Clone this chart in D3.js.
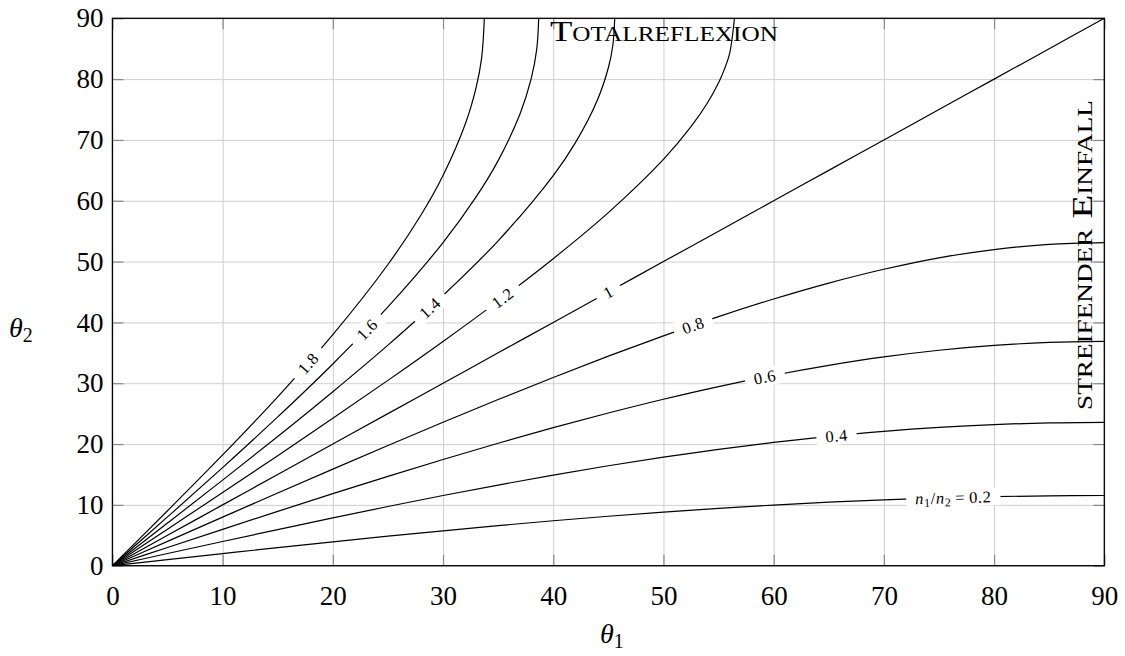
<!DOCTYPE html>
<html>
<head>
<meta charset="utf-8">
<script src="https://cdn.jsdelivr.net/npm/d3@7"></script>
<style>
  body { margin: 0; background: #fff; }
  text { font-family: 'Liberation Serif', 'DejaVu Serif', serif; fill: #000; }
</style>
</head>
<body>
<svg id="chart"></svg>
<script>
// refraction angle theta2 vs. incidence angle theta1 for several n1/n2
const ratios = [0.2, 0.4, 0.6, 0.8, 1, 1.2, 1.4, 1.6, 1.8];
const ratioLabels = ['0.2', '0.4', '0.6', '0.8', '1', '1.2', '1.4', '1.6', '1.8'];

const theta1Full = [0, 5, 10, 15, 20, 25, 30, 35, 40, 45, 50, 55, 60, 65, 70, 75, 80, 85, 90];
const theta2At02 = [0, 1.00, 1.99, 2.97, 3.92, 4.85, 5.74, 6.59, 7.39, 8.13, 8.81, 9.43, 9.97, 10.44, 10.83, 11.14, 11.36, 11.49, 11.54];
const theta2At04 = [0, 2.00, 3.98, 5.94, 7.86, 9.73, 11.54, 13.26, 14.90, 16.43, 17.84, 19.13, 20.27, 21.25, 22.08, 22.73, 23.20, 23.48, 23.58];
const theta2At06 = [0, 3.00, 5.98, 8.93, 11.84, 14.69, 17.46, 20.13, 22.69, 25.10, 27.36, 29.44, 31.31, 32.94, 34.32, 35.42, 36.22, 36.71, 36.87];
const theta2At08 = [0, 4.00, 7.98, 11.95, 15.88, 19.76, 23.58, 27.32, 30.95, 34.45, 37.79, 40.95, 43.85, 46.47, 48.74, 50.62, 51.98, 52.84, 53.13];
const theta2At10 = [0, 5, 10, 15, 20, 25, 30, 35, 40, 45, 50, 55, 60, 65, 70, 75, 80, 85, 90];

// curves with n1/n2 > 1 stop at the critical angle (total reflection)
const theta1At12 = [0, 5, 10, 15, 20, 25, 30, 35, 40, 45, 50, 52.5, 54, 55, 55.5, 56, 56.44];
const theta2At12 = [0, 6.01, 12.02, 18.09, 24.23, 30.47, 36.87, 43.50, 50.48, 58.05, 66.80, 72.18, 76.12, 79.42, 81.48, 84.18, 90];
const theta1At14 = [0, 5, 10, 15, 20, 25, 30, 35, 40, 42, 44, 45, 45.4, 45.58];
const theta2At14 = [0, 7.01, 14.07, 21.24, 28.61, 36.27, 44.43, 53.42, 64.15, 69.52, 76.54, 81.87, 85.44, 90];
const theta1At16 = [0, 5, 10, 15, 20, 25, 30, 33, 35, 37, 38, 38.5, 38.68];
const theta2At16 = [0, 8.02, 16.13, 24.46, 33.17, 42.54, 53.13, 60.63, 66.60, 74.35, 80.08, 84.88, 90];
const theta1At18 = [0, 5, 10, 15, 20, 25, 28, 30, 32, 33, 33.5, 33.75];
const theta2At18 = [0, 9.03, 18.21, 27.77, 37.99, 49.52, 57.67, 64.16, 72.53, 78.62, 83.46, 90];

// theta1 where each contour label sits
const labelAt = [76.3, 65.7, 59.2, 52.7, 45.0, 35.4, 28.8, 23.1, 17.75];

const xTicks = [0, 10, 20, 30, 40, 50, 60, 70, 80, 90];
const yTicks = [0, 10, 20, 30, 40, 50, 60, 70, 80, 90];

const series = [
  [theta1Full, theta2At02], [theta1Full, theta2At04], [theta1Full, theta2At06],
  [theta1Full, theta2At08], [theta1Full, theta2At10], [theta1At12, theta2At12],
  [theta1At14, theta2At14], [theta1At16, theta2At16], [theta1At18, theta2At18]
].map(([xs, ys], i) => ({
  ratio: ratios[i],
  label: ratioLabels[i],
  at: labelAt[i],
  points: xs.map((x, j) => [x, ys[j]])
}));

const width = 1125, height = 656;
const margin = {top: 18.3, right: 20.7, bottom: 90.3, left: 112.4};
const innerW = width - margin.left - margin.right;
const innerH = height - margin.top - margin.bottom;

const svg = d3.select('#chart')
    .attr('width', width)
    .attr('height', height);

const chart = svg.append('g')
    .attr('transform', `translate(${margin.left},${margin.top})`);

const xScale = d3.scaleLinear().domain([0, 90]).range([0, innerW]);
const yScale = d3.scaleLinear().domain([0, 90]).range([innerH, 0]);

svg.append('defs').append('clipPath')
    .attr('id', 'plot-clip')
  .append('rect')
    .attr('width', innerW)
    .attr('height', innerH);

// grid
chart.append('g')
    .attr('class', 'grid')
    .attr('transform', `translate(0,${innerH})`)
    .call(d3.axisBottom(xScale).tickValues(xTicks).tickSize(-innerH).tickFormat(''))
    .call(g => g.select('.domain').remove())
    .call(g => g.selectAll('line').attr('stroke', '#cfcfcf').attr('stroke-width', 1));

chart.append('g')
    .attr('class', 'grid')
    .call(d3.axisLeft(yScale).tickValues(yTicks).tickSize(-innerW).tickFormat(''))
    .call(g => g.select('.domain').remove())
    .call(g => g.selectAll('line').attr('stroke', '#cfcfcf').attr('stroke-width', 1));

// inward ticks on all four sides
const tickLen = 11;
const styleTicks = g => {
  g.select('.domain').remove();
  g.selectAll('line').attr('stroke', '#888').attr('stroke-width', 1.2);
};
chart.append('g')
    .attr('transform', `translate(0,${innerH})`)
    .call(d3.axisBottom(xScale).tickValues(xTicks).tickSize(-tickLen).tickFormat(''))
    .call(styleTicks);
chart.append('g')
    .call(d3.axisTop(xScale).tickValues(xTicks).tickSize(-tickLen).tickFormat(''))
    .call(styleTicks);
chart.append('g')
    .call(d3.axisLeft(yScale).tickValues(yTicks).tickSize(-tickLen).tickFormat(''))
    .call(styleTicks);
chart.append('g')
    .attr('transform', `translate(${innerW},0)`)
    .call(d3.axisRight(yScale).tickValues(yTicks).tickSize(-tickLen).tickFormat(''))
    .call(styleTicks);

// tick labels
const xAxisG = chart.append('g')
    .attr('transform', `translate(0,${innerH})`)
    .call(d3.axisBottom(xScale).tickValues(xTicks).tickSize(0).tickPadding(20).tickFormat(d3.format('d')));
xAxisG.select('.domain').remove();
xAxisG.selectAll('text').attr('font-size', 27).attr('font-family', "'Liberation Serif', serif");

const yAxisG = chart.append('g')
    .call(d3.axisLeft(yScale).tickValues(yTicks).tickSize(0).tickPadding(9).tickFormat(d3.format('d')));
yAxisG.select('.domain').remove();
yAxisG.selectAll('text').attr('font-size', 27).attr('font-family', "'Liberation Serif', serif");

// curves
const line = d3.line()
    .x(d => xScale(d[0]))
    .y(d => yScale(d[1]))
    .curve(d3.curveCatmullRom.alpha(0.5));

const marks = chart.append('g').attr('clip-path', 'url(#plot-clip)');
const paths = marks.selectAll('.curve')
    .data(series)
  .join('path')
    .attr('class', 'curve')
    .attr('fill', 'none')
    .attr('stroke', '#000')
    .attr('stroke-width', 1.2)
    .attr('d', d => line(d.points));

// frame
chart.append('rect')
    .attr('width', innerW)
    .attr('height', innerH)
    .attr('fill', 'none')
    .attr('stroke', '#000')
    .attr('stroke-width', 1.3);

// contour labels, placed on the drawn path and rotated with it
const labelG = chart.append('g');
paths.each(function(d) {
  const node = this;
  const total = node.getTotalLength();
  const targetX = xScale(d.at);
  let lo = 0, hi = total;
  for (let k = 0; k < 40; k++) {
    const mid = (lo + hi) / 2;
    if (node.getPointAtLength(mid).x < targetX) lo = mid; else hi = mid;
  }
  const p = node.getPointAtLength(lo);
  const a = node.getPointAtLength(Math.max(0, lo - 6));
  const b = node.getPointAtLength(Math.min(total, lo + 6));
  const angle = Math.atan2(b.y - a.y, b.x - a.x) * 180 / Math.PI;

  const g = labelG.append('g')
      .attr('transform', `translate(${p.x},${p.y}) rotate(${angle})`);
  const bg = g.append('rect').attr('fill', '#fff');
  const t = g.append('text')
      .attr('text-anchor', 'middle')
      .attr('dy', '0.35em')
      .attr('font-size', 16.5)
      .attr('letter-spacing', 0.6);
  if (d.ratio === 0.2) {
    t.append('tspan').attr('font-style', 'italic').text('n');
    t.append('tspan').attr('font-size', 12).attr('dy', 3).text('1');
    t.append('tspan').attr('dy', -3).text('/');
    t.append('tspan').attr('font-style', 'italic').text('n');
    t.append('tspan').attr('font-size', 12).attr('dy', 3).text('2');
    t.append('tspan').attr('dy', -3).text('\u2009=\u20090.2');
  } else {
    t.text(d.label);
  }
  const bb = t.node().getBBox();
  bg.attr('x', bb.x - 9).attr('y', -9).attr('width', bb.width + 18).attr('height', 18);
});

// region annotations
svg.append('text')
    .attr('x', 550)
    .attr('y', 40.7)
    .attr('font-size', 29)
    .attr('textLength', 228)
    .attr('lengthAdjust', 'spacingAndGlyphs')
    .style('font-variant', 'small-caps')
    .text('Totalreflexion');

svg.append('text')
    .attr('transform', 'translate(1092,410) rotate(-90)')
    .attr('font-size', 29)
    .attr('textLength', 310)
    .attr('lengthAdjust', 'spacingAndGlyphs')
    .style('font-variant', 'small-caps')
    .text('streifender Einfall');

// axis titles
const xTitle = svg.append('text')
    .attr('x', 600)
    .attr('y', 643)
    .attr('font-size', 28);
xTitle.append('tspan').attr('font-style', 'italic').text('\u03b8');
xTitle.append('tspan').attr('font-size', 20).attr('dy', 5).text('1');

const yTitle = svg.append('text')
    .attr('x', 9)
    .attr('y', 337)
    .attr('font-size', 28);
yTitle.append('tspan').attr('font-style', 'italic').text('\u03b8');
yTitle.append('tspan').attr('font-size', 20).attr('dy', 5).text('2');
</script>
</body>
</html>
